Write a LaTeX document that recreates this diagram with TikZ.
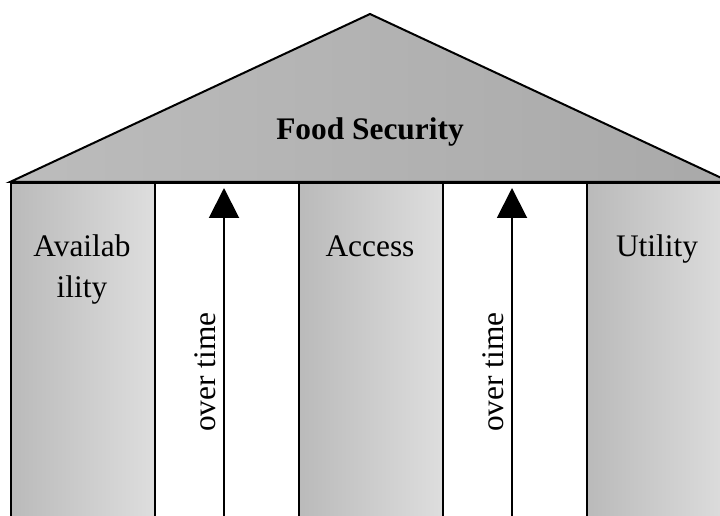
\documentclass[tikz,border=0pt]{standalone}
\usepackage{fontspec}
\setmainfont{Liberation Serif}
\usetikzlibrary{arrows.meta}
\definecolor{roofL}{HTML}{BCBCBC}
\definecolor{roofR}{HTML}{A9A9A9}
\definecolor{pillarL}{HTML}{BABABA}
\definecolor{pillarR}{HTML}{DEDEDE}

\begin{document}
\begin{tikzpicture}[x=1bp, y=-1bp,
  pillar/.style={draw, line width=2bp, left color=pillarL, right color=pillarR},
  lane/.style={draw, line width=2bp, fill=white},
  word/.style={font=\fontsize{31.5}{40}\selectfont, anchor=base, inner sep=0pt},
  flow/.style={line width=2bp, -{Triangle[width=30bp, length=30bp]}}]
  \useasboundingbox (0,0) rectangle (720,516);
  \clip (0,0) rectangle (720,516);
  % roof
  \draw[line width=2bp, left color=roofL, right color=roofR] (10,182) -- (370,14) -- (730,182) -- cycle;
  \node[word, font=\fontsize{31.5}{40}\selectfont\bfseries] (roof) at (370,140) {Food Security};
  % columns
  \foreach \x/\n/\s in {10/avail/pillar,154/laneA/lane,298/access/pillar,442/laneB/lane,586/utility/pillar}
   {
    \node[\s, anchor=north west, minimum width=144bp, minimum height=360bp, inner sep=0pt] (\n) at (\x,182) {};
   }
  \node[word] (availA) at (82,257) {Availab};
  \node[word] (availB) at (82,297) {ility};
  \node[word] (accesstxt) at (370,257) {Access};
  \node[word] (utilitytxt) at (657,257) {Utility};
  % arrows
  \foreach \x/\n in {224/A,512/B}
   {
    \coordinate (top\n) at (\x,188);
    \coordinate (bot\n) at (\x,530);
    \draw[flow] (bot\n) -- (top\n);
    \node[word, rotate=90] (time\n) at (\x-9,372) {over time};
   }
\end{tikzpicture}
\end{document}
